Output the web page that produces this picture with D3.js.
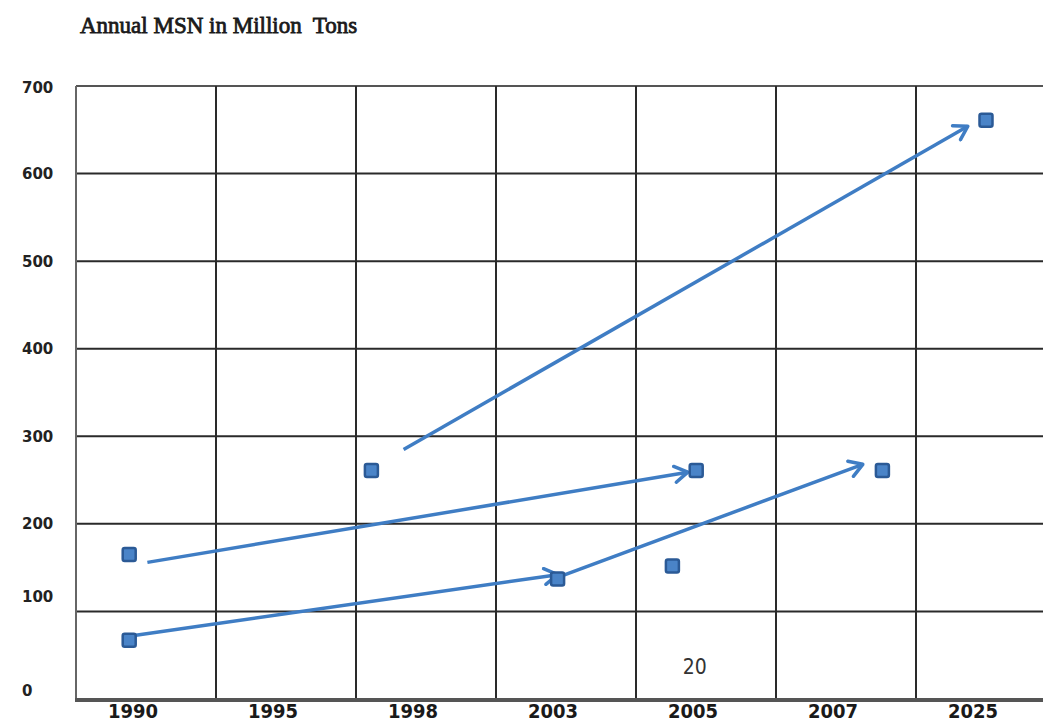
<!DOCTYPE html>
<html>
<head>
<meta charset="utf-8">
<script src="https://cdn.jsdelivr.net/npm/d3@7"></script>
<style>
  html, body { margin: 0; padding: 0; background: #fff; }
  svg { display: block; }
</style>
</head>
<body>
<svg id="chart" width="1043" height="725"></svg>
<script>
// ---- data ----
const title = "Annual MSN in Million\u00a0 Tons";
const categories = ["1990", "1995", "1998", "2003", "2005", "2007", "2025"];
const yTicks = [0, 100, 200, 300, 400, 500, 600, 700];

// markers: position along the category axis (band units) and value
const pointPos = [0.38, 0.38, 2.11, 3.44, 4.26, 4.43, 5.76, 6.50];
const pointVal = [165, 67, 261, 137, 152, 261, 261, 661];

// arrows: start/end position (band units) and start/end value
const arrowX1 = [0.51, 0.39, 3.46, 2.34];
const arrowY1 = [156, 72, 140, 285];
const arrowX2 = [4.37, 3.44, 5.62, 6.37];
const arrowY2 = [259, 142, 268, 654];

const note = "20";
const notePos = 4.42, noteVal = 30;

// ---- layout ----
const svg = d3.select("#chart");
const plotLeft = 76, plotTop = 86, plotBottom = 699, plotRight = 1043, band = 140;

const x = d3.scaleLinear().domain([0, categories.length]).range([plotLeft, plotLeft + band * categories.length]);
const y = d3.scaleLinear().domain([0, 700]).range([plotBottom, plotTop]);

const blue = "#3f7dc4";

// title
svg.append("text")
  .attr("x", 80).attr("y", 33)
  .attr("font-family", "Liberation Serif, Times New Roman, serif")
  .attr("font-size", 23)
  .attr("fill", "#1a1a1a")
  .attr("stroke", "#1a1a1a").attr("stroke-width", 0.8)
  .text(title);

// horizontal grid
svg.append("g").selectAll("line")
  .data(yTicks.filter(d => d > 0))
  .join("line")
  .attr("x1", plotLeft).attr("x2", plotRight)
  .attr("y1", d => y(d)).attr("y2", d => y(d))
  .attr("stroke", d => d === 700 ? "#555" : "#2a2a2a")
  .attr("stroke-width", 2);

// vertical grid
svg.append("g").selectAll("line")
  .data(d3.range(categories.length))
  .join("line")
  .attr("x1", d => x(d)).attr("x2", d => x(d))
  .attr("y1", plotTop).attr("y2", plotBottom)
  .attr("stroke", d => d === 0 ? "#666" : "#2a2a2a")
  .attr("stroke-width", 2);

// bottom axis line
svg.append("line")
  .attr("x1", plotLeft - 1).attr("x2", plotRight)
  .attr("y1", plotBottom + 1).attr("y2", plotBottom + 1)
  .attr("stroke", "#555").attr("stroke-width", 4);

// y labels (the two lowest sit a little above their grid lines in the original)
svg.append("g").selectAll("text")
  .data(yTicks)
  .join("text")
  .attr("x", 22)
  .attr("y", d => y(d) + (d === 100 ? -15 : d === 0 ? -8 : d === 700 ? 2 : 0))
  .attr("dy", "0.36em")
  .attr("font-family", "DejaVu Sans, Verdana, sans-serif")
  .attr("font-weight", "bold")
  .attr("font-size", 15)
  .attr("fill", "#222")
  .text(d => d);

// x labels
svg.append("g").selectAll("text")
  .data(categories)
  .join("text")
  .attr("x", (d, i) => x(i + 0.5) - 13)
  .attr("y", 718)
  .attr("text-anchor", "middle")
  .attr("font-family", "Liberation Sans Narrow, DejaVu Sans Condensed, sans-serif")
  .attr("font-weight", "bold")
  .attr("font-size", 20)
  .attr("fill", "#1a1a1a")
  .text(d => d);

// arrow marker
const defs = svg.append("defs");
defs.append("marker")
  .attr("id", "arrow")
  .attr("markerUnits", "userSpaceOnUse")
  .attr("viewBox", "-16 -10 20 20")
  .attr("refX", 0).attr("refY", 0)
  .attr("markerWidth", 20).attr("markerHeight", 20)
  .attr("orient", "auto")
  .append("path")
  .attr("d", "M-13,-8 L0,0 L-13,8")
  .attr("fill", "none")
  .attr("stroke", blue)
  .attr("stroke-width", 3.5)
  .attr("stroke-linecap", "round")
  .attr("stroke-linejoin", "round");

// arrows
svg.append("g").selectAll("line")
  .data(d3.range(arrowX1.length))
  .join("line")
  .attr("x1", i => x(arrowX1[i])).attr("y1", i => y(arrowY1[i]))
  .attr("x2", i => x(arrowX2[i])).attr("y2", i => y(arrowY2[i]))
  .attr("stroke", blue)
  .attr("stroke-width", 3.5)
  .attr("marker-end", "url(#arrow)");

// markers
const s = 13;
svg.append("g").selectAll("rect")
  .data(d3.range(pointPos.length))
  .join("rect")
  .attr("x", i => x(pointPos[i]) - s / 2)
  .attr("y", i => y(pointVal[i]) - s / 2)
  .attr("width", s).attr("height", s)
  .attr("rx", 2)
  .attr("fill", "#4a84c8")
  .attr("stroke", "#2b5a96")
  .attr("stroke-width", 2.5);

// note
svg.append("text")
  .attr("x", x(notePos)).attr("y", y(noteVal) + 1)
  .attr("text-anchor", "middle")
  .attr("font-family", "Liberation Sans Narrow, DejaVu Sans Condensed, sans-serif")
  .attr("font-size", 21)
  .attr("fill", "#333")
  .text(note);
</script>
</body>
</html>
